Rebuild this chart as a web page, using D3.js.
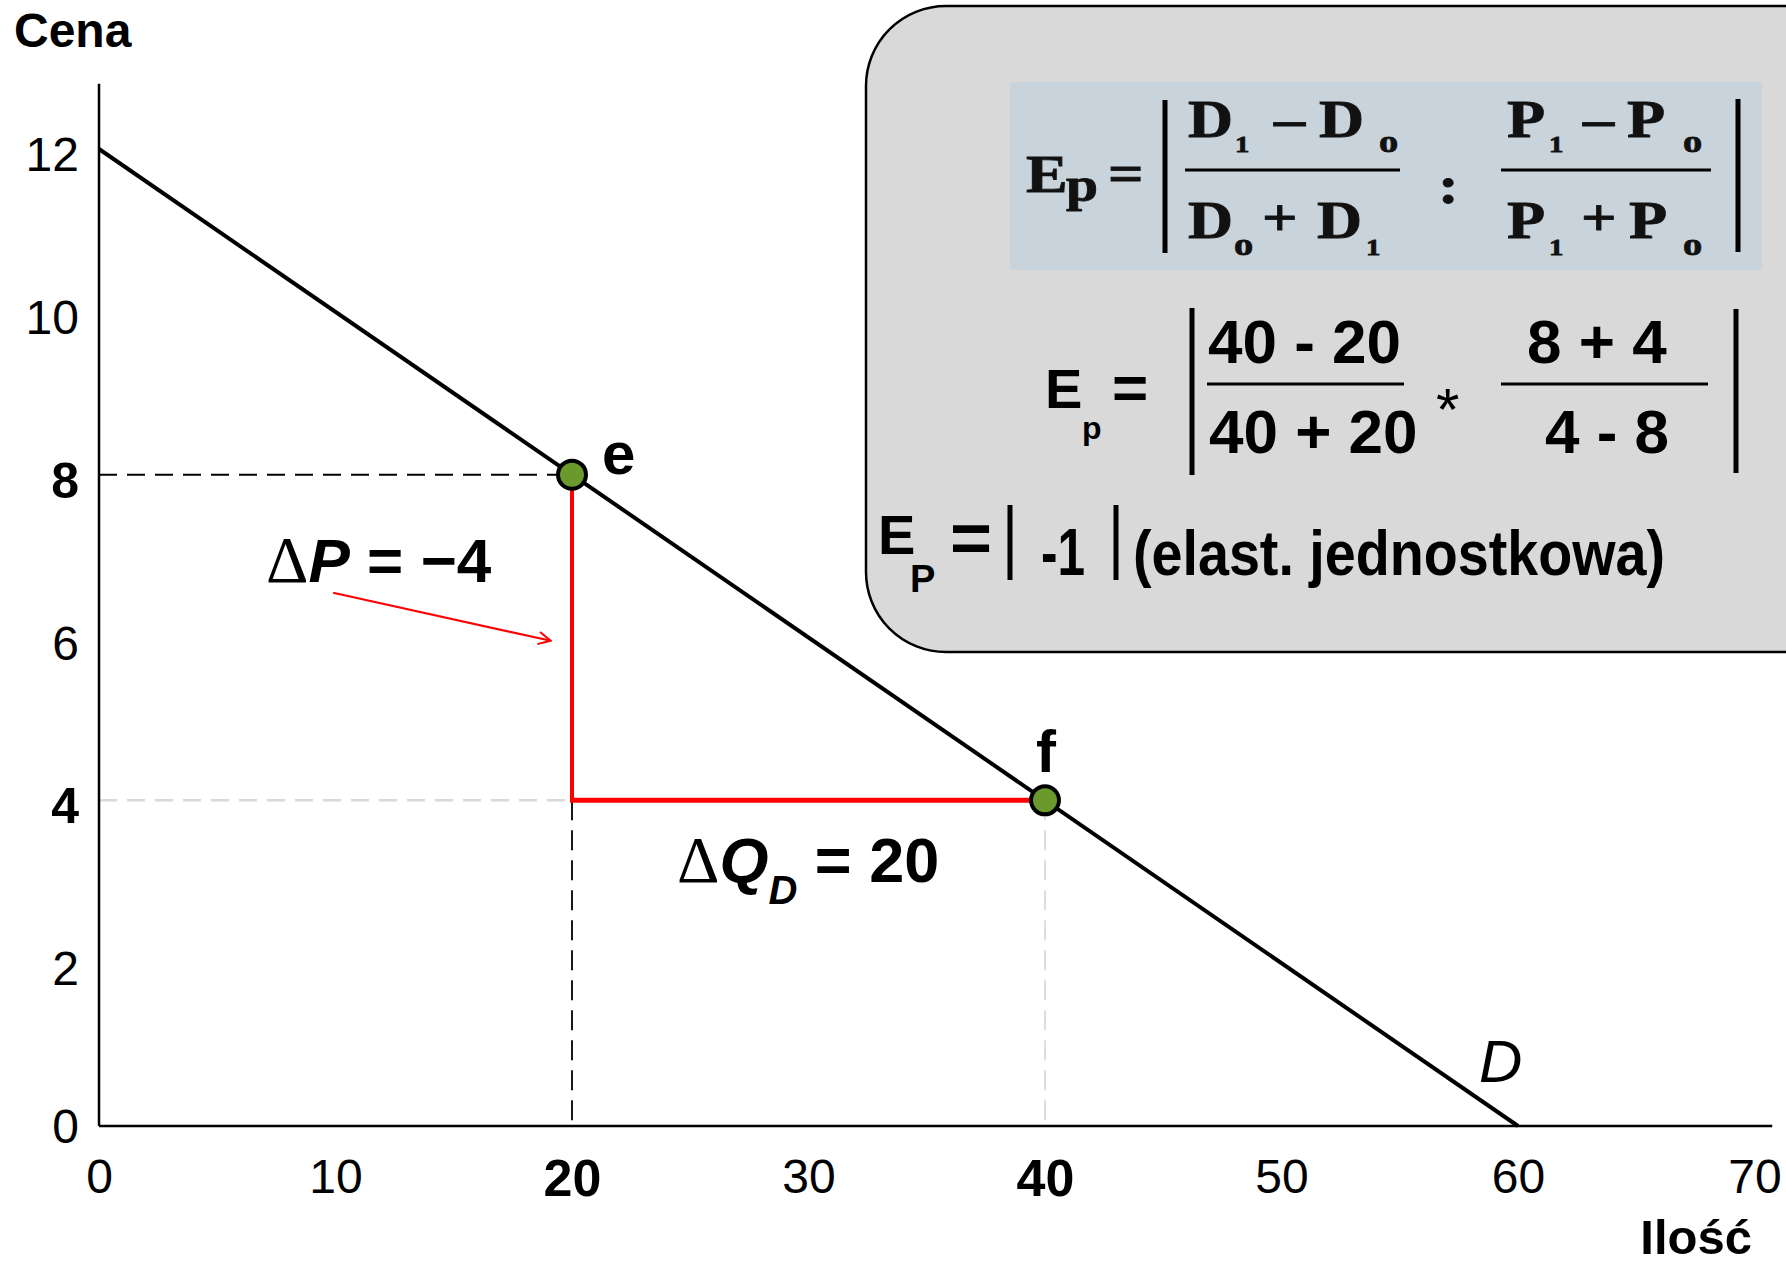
<!DOCTYPE html>
<html>
<head>
<meta charset="utf-8">
<script src="https://cdn.jsdelivr.net/npm/d3@7"></script>
<style>
  body { margin: 0; background: #fff; }
  text { font-family: "Liberation Sans", Arial, sans-serif; }
</style>
</head>
<body>
<div id="chart"></div>
<script>
// demand curve D: price falls from 12 to 0 while quantity goes 0 -> 60
const demandQ = [0, 60];
const demandP = [12, 0];

// the two points on the curve
const pointNames = ['e', 'f'];
const quantity = [20, 40];
const price = [8, 4];

const xTicks = [0, 10, 20, 30, 40, 50, 60, 70];
const yTicks = [0, 2, 4, 6, 8, 10, 12];

// red arrow pointing at the price change (data units)
const arrowQ = [9.9, 19.1];
const arrowP = [6.55, 5.96];

const width = 1786,
  height = 1266;

const x = d3.scaleLinear().domain([0, 60]).range([99, 1518]);
const y = d3.scaleLinear().domain([0, 12]).range([1126, 149]);

const svg = d3.select('#chart')
  .append('svg')
  .attr('width', width)
  .attr('height', height);

// --- formula box ---
svg.append('rect')
  .attr('x', 866).attr('y', 6)
  .attr('width', 1100).attr('height', 646)
  .attr('rx', 80).attr('ry', 80)
  .attr('fill', '#d9d9d9')
  .attr('stroke', '#000')
  .attr('stroke-width', 2.5);

svg.append('rect')
  .attr('x', 1010).attr('y', 82)
  .attr('width', 752).attr('height', 188)
  .attr('fill', '#c9d3db');

function bar(x1, y1, x2, y2, w) {
  svg.append('line')
    .attr('x1', x1).attr('y1', y1).attr('x2', x2).attr('y2', y2)
    .attr('stroke', '#000').attr('stroke-width', w);
}

// general formula, serif and a bit wide
const serifParts = [
  ['E', 1026, 192, 52], ['p', 1066, 201, 48], ['=', 1108, 191, 52],
  ['D', 1188, 137, 52], ['1', 1235, 152, 24], ['\u2013', 1274, 137, 52], ['D', 1319, 137, 52], ['o', 1379, 152, 32],
  ['D', 1188, 238, 52], ['o', 1234, 255, 32], ['+', 1262, 235, 52], ['D', 1317, 238, 52], ['1', 1366, 255, 24],
  [':', 1438, 203, 52],
  ['P', 1507, 137, 52], ['1', 1549, 152, 24], ['\u2013', 1583, 137, 52], ['P', 1627, 137, 52], ['o', 1683, 152, 32],
  ['P', 1507, 238, 52], ['1', 1549, 255, 24], ['+', 1581, 235, 52], ['P', 1629, 238, 52], ['o', 1683, 255, 32]
];
serifParts.forEach(([t, px, py, s]) => {
  svg.append('text')
    .attr('transform', `translate(${px},${py}) scale(1.2,1)`)
    .style('font-family', '"Liberation Serif", "Times New Roman", serif')
    .style('font-weight', 'bold')
    .style('font-size', s + 'px')
    .attr('fill', '#111')
    .attr('stroke', '#111')
    .attr('stroke-width', 0.8)
    .text(t);
});
bar(1165, 100, 1165, 253, 5);
bar(1738, 99, 1738, 252, 5);
bar(1185, 170, 1400, 170, 3);
bar(1501, 170, 1711, 170, 3);

// numbers put into the formula
const dq = `${quantity[1]} - ${quantity[0]}`;
const sq = `${quantity[1]} + ${quantity[0]}`;
const sp = `${price[0]} + ${price[1]}`;
const dp = `${price[1]} - ${price[0]}`;
const elast = ((quantity[1] - quantity[0]) / (quantity[1] + quantity[0])) *
  ((price[0] + price[1]) / (price[1] - price[0]));

const sansParts = [
  ['E', 1045, 408, 56, 'bold'], ['p', 1082, 439, 32, 'bold'], ['=', 1112, 409, 62, 'bold'],
  [dq, 1208, 363, 62, 'bold'], [sq, 1209, 453, 62, 'bold'],
  ['*', 1436, 430, 60, 'normal'],
  [sp, 1527, 363, 62, 'bold'], [dp, 1545, 453, 62, 'bold']
];
sansParts.forEach(([t, px, py, s, w]) => {
  svg.append('text')
    .attr('x', px).attr('y', py)
    .style('font-weight', w)
    .style('font-size', s + 'px')
    .text(t);
});
bar(1192, 308, 1192, 475, 5);
bar(1736, 309, 1736, 473, 5);
bar(1207, 384, 1404, 384, 3);
bar(1501, 384, 1708, 384, 3);

// result line
const resParts = [
  ['E', 878, 554, 56, null], ['P', 910, 592, 38, null], ['=', 950, 562, 70, 42],
  [String(Math.round(elast)), 1041, 575, 66, 44],
  ['(elast. jednostkowa)', 1133, 575, 63, 532]
];
resParts.forEach(([t, px, py, s, len]) => {
  const tx = svg.append('text')
    .attr('x', px).attr('y', py)
    .style('font-weight', 'bold')
    .style('font-size', s + 'px')
    .text(t);
  if (len) tx.attr('textLength', len).attr('lengthAdjust', 'spacingAndGlyphs');
});
bar(1010, 505, 1010, 580, 5);
bar(1116, 505, 1116, 580, 5);

// --- chart ---
const plot = svg.append('g');

// guide lines
plot.append('line')
  .attr('x1', x(0)).attr('x2', x(quantity[0])).attr('y1', y(price[0])).attr('y2', y(price[0]))
  .attr('stroke', '#000').attr('stroke-width', 2).attr('stroke-dasharray', '18,10');
plot.append('line')
  .attr('x1', x(0)).attr('x2', x(quantity[0])).attr('y1', y(price[1])).attr('y2', y(price[1]))
  .attr('stroke', '#d9d9d9').attr('stroke-width', 2.5).attr('stroke-dasharray', '18,10');
plot.append('line')
  .attr('x1', x(quantity[0])).attr('x2', x(quantity[0])).attr('y1', y(price[1])).attr('y2', y(0))
  .attr('stroke', '#000').attr('stroke-width', 1.8).attr('stroke-dasharray', '20,10');
plot.append('line')
  .attr('x1', x(quantity[1])).attr('x2', x(quantity[1])).attr('y1', y(price[1])).attr('y2', y(0))
  .attr('stroke', '#dedede').attr('stroke-width', 2).attr('stroke-dasharray', '20,10');

// axes
plot.append('line')
  .attr('x1', x(0)).attr('x2', x(0)).attr('y1', y(0)).attr('y2', y(12.8))
  .attr('stroke', '#000').attr('stroke-width', 2.5);
plot.append('line')
  .attr('x1', x(0)).attr('x2', x(70.75)).attr('y1', y(0)).attr('y2', y(0))
  .attr('stroke', '#000').attr('stroke-width', 2.5);

const xAxis = plot.append('g')
  .attr('transform', `translate(0,${y(0)})`)
  .call(d3.axisBottom(x).tickValues(xTicks).tickSize(0).tickPadding(33).tickFormat(d3.format('d')));
xAxis.select('.domain').remove();
xAxis.selectAll('text')
  .attr('fill', '#000')
  .style('font-family', '"Liberation Sans", Arial, sans-serif')
  .style('font-size', d => quantity.includes(d) ? '52px' : '48px')
  .style('font-weight', d => quantity.includes(d) ? 'bold' : 'normal');

const yAxis = plot.append('g')
  .attr('transform', `translate(${x(0)},0)`)
  .call(d3.axisLeft(y).tickValues(yTicks).tickSize(0).tickPadding(20).tickFormat(d3.format('d')));
yAxis.select('.domain').remove();
yAxis.selectAll('text')
  .attr('fill', '#000')
  .attr('dy', d => d === 0 ? '0.35em' : '0.45em')
  .style('font-family', '"Liberation Sans", Arial, sans-serif')
  .style('font-size', d => price.includes(d) ? '50px' : '48px')
  .style('font-weight', d => price.includes(d) ? 'bold' : 'normal');

// red change segments
plot.append('line')
  .attr('x1', x(quantity[0])).attr('x2', x(quantity[0])).attr('y1', y(price[0])).attr('y2', y(price[1]))
  .attr('stroke', '#ff0000').attr('stroke-width', 4);
plot.append('line')
  .attr('x1', x(quantity[0]) - 2).attr('x2', x(quantity[1])).attr('y1', y(price[1])).attr('y2', y(price[1]))
  .attr('stroke', '#ff0000').attr('stroke-width', 5);

// arrow
svg.append('defs').append('marker')
  .attr('id', 'arrowhead')
  .attr('viewBox', '0 0 10 10')
  .attr('refX', 9).attr('refY', 5)
  .attr('markerWidth', 7).attr('markerHeight', 7)
  .attr('markerUnits', 'strokeWidth')
  .attr('orient', 'auto')
  .append('path')
  .attr('d', 'M1,1 L9,5 L1,9')
  .attr('fill', 'none')
  .attr('stroke', '#ff0000')
  .attr('stroke-width', 1.3);
plot.append('line')
  .attr('x1', x(arrowQ[0])).attr('y1', y(arrowP[0]))
  .attr('x2', x(arrowQ[1])).attr('y2', y(arrowP[1]))
  .attr('stroke', '#ff0000').attr('stroke-width', 2.2)
  .attr('marker-end', 'url(#arrowhead)');

// demand line
const line = d3.line().x(d => x(d[0])).y(d => y(d[1]));
plot.append('path')
  .datum(d3.zip(demandQ, demandP))
  .attr('d', line)
  .attr('fill', 'none')
  .attr('stroke', '#000')
  .attr('stroke-width', 4);

// points
plot.selectAll('circle.pt')
  .data(d3.zip(quantity, price))
  .enter()
  .append('circle')
  .attr('class', 'pt')
  .attr('cx', d => x(d[0]))
  .attr('cy', d => y(d[1]))
  .attr('r', 14)
  .attr('fill', '#6a9a2b')
  .attr('stroke', '#000')
  .attr('stroke-width', 4);

// point names
const nameOffset = [[30, -1], [-9, -28]];
plot.selectAll('text.pname')
  .data(pointNames)
  .enter()
  .append('text')
  .attr('class', 'pname')
  .attr('x', (d, i) => x(quantity[i]) + nameOffset[i][0])
  .attr('y', (d, i) => y(price[i]) + nameOffset[i][1])
  .style('font-size', '60px')
  .style('font-weight', 'bold')
  .text(d => d);

// curve label
plot.append('text')
  .attr('x', x(58.35)).attr('y', y(0.54))
  .style('font-size', '60px')
  .style('font-style', 'italic')
  .text('D');

// delta P label
const dP = plot.append('text')
  .attr('x', x(7.06)).attr('y', y(6.68))
  .style('font-size', '62px')
  .style('font-weight', 'bold');
dP.append('tspan')
  .style('font-family', '"Liberation Serif", "Times New Roman", serif')
  .style('font-weight', 'normal')
  .style('font-size', '66px')
  .text('\u0394');
dP.append('tspan').style('font-style', 'italic').text('P');
dP.append('tspan').text(` = \u2212${Math.abs(price[1] - price[0])}`);

// delta Q label
const dQ = plot.append('text')
  .attr('x', x(24.44)).attr('y', y(3.0))
  .style('font-size', '63px')
  .style('font-weight', 'bold');
dQ.append('tspan')
  .style('font-family', '"Liberation Serif", "Times New Roman", serif')
  .style('font-weight', 'normal')
  .style('font-size', '66px')
  .text('\u0394');
dQ.append('tspan').style('font-style', 'italic').text('Q');
dQ.append('tspan').style('font-style', 'italic').style('font-size', '40px').attr('dy', 22).text('D');
dQ.append('tspan').attr('dy', -22).text(` = ${quantity[1] - quantity[0]}`);

// axis titles
svg.append('text')
  .attr('x', 14).attr('y', 47)
  .style('font-size', '48px')
  .style('font-weight', 'bold')
  .text('Cena');
svg.append('text')
  .attr('x', 1752).attr('y', 1254)
  .attr('text-anchor', 'end')
  .style('font-size', '49px')
  .style('font-weight', 'bold')
  .text('Ilość');
</script>
</body>
</html>
